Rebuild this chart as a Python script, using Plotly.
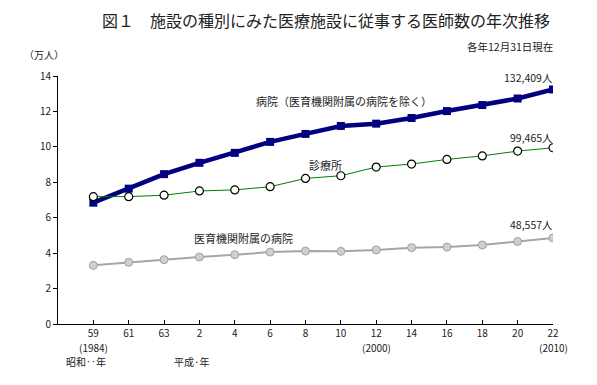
import plotly.graph_objects as go

years = ["59", "61", "63", "2", "4", "6", "8", "10", "12", "14", "16", "18", "20", "22"]
western = ["(1984)", "", "", "", "", "", "", "", "(2000)", "", "", "", "", "(2010)"]
hospital = [6.85, 7.64, 8.46, 9.10, 9.66, 10.28, 10.73, 11.18, 11.31, 11.63, 12.02, 12.36, 12.73, 13.24]
clinic = [7.19, 7.19, 7.27, 7.51, 7.57, 7.75, 8.22, 8.37, 8.86, 9.03, 9.29, 9.49, 9.76, 9.95]
univ = [3.31, 3.48, 3.63, 3.78, 3.91, 4.06, 4.12, 4.10, 4.18, 4.31, 4.34, 4.46, 4.66, 4.86]
yticks = [0, 2, 4, 6, 8, 10, 12, 14]

xs = list(range(len(years)))
FONT = "Noto Sans CJK JP"

fig = go.Figure()
fig.add_trace(go.Scatter(
    x=xs, y=univ, mode="lines+markers",
    line=dict(color="#A6A6A6", width=2),
    marker=dict(symbol="circle", size=8, color="#CFCFCF", line=dict(color="#A0A0A0", width=1)),
    hoverinfo="skip"))
fig.add_trace(go.Scatter(
    x=xs, y=hospital, mode="lines+markers",
    line=dict(color="#000080", width=4.5),
    marker=dict(symbol="square", size=8, color="#000080"),
    hoverinfo="skip"))
fig.add_trace(go.Scatter(
    x=xs, y=clinic, mode="lines+markers",
    line=dict(color="#008000", width=1),
    marker=dict(symbol="circle", size=8, color="white", line=dict(color="black", width=1.2)),
    hoverinfo="skip"))

ann = []
def txt(x, y, t, size=10.5, xanchor="center", xref="paper"):
    ann.append(dict(x=x, y=y, xref=xref, yref="paper", text=t, showarrow=False,
                    xanchor=xanchor, yanchor="middle", borderpad=0,
                    font=dict(family=FONT, size=size, color="#222")))

W, H = 597, 385
def px(xp):  # pixel to paper x
    return (xp - 58) / (553.5 - 58)
def py(yp):
    return (324 - yp) / (324 - 76)

txt(px(326), py(20), "図１　施設の種別にみた医療施設に従事する医師数の年次推移", size=16)
txt(px(44), py(55), "（万人）", size=10)
txt(px(555), py(46), "各年12月31日現在", size=10.5, xanchor="right")
txt(px(344), py(101), "病院（医育機関附属の病院を除く）", size=11)
txt(px(326), py(165), "診療所", size=11)
txt(px(244), py(238), "医育機関附属の病院", size=11)
txt(px(555), py(77), "132,409人", size=10.5, xanchor="right")
txt(px(555), py(137), "99,465人", size=10.5, xanchor="right")
txt(px(555), py(224), "48,557人", size=10.5, xanchor="right")
txt(px(86), py(361.5), "昭和‥年", size=10)
txt(px(192), py(361.5), "平成·年", size=10)
for xi, w in zip(xs, western):
    if w:
        txt(xi, py(347.5), w, size=10, xref="x")

fig.update_layout(
    width=W, height=H,
    margin=dict(l=58, r=W - 553.5, t=76, b=H - 324),
    paper_bgcolor="white", plot_bgcolor="white",
    showlegend=False,
    annotations=ann,
    font=dict(family=FONT, size=10, color="#222"),
)
fig.update_xaxes(
    range=[-1, 13], tickmode="array", tickvals=xs, ticktext=years,
    ticks="inside", ticklen=4, tickcolor="black",
    showline=True, linecolor="black", linewidth=1,
    showgrid=False, zeroline=False, automargin=False,
    tickfont=dict(family=FONT, size=10, color="#222"),
)
fig.update_yaxes(
    range=[0, 14], tickmode="array", tickvals=yticks,
    ticks="outside", ticklen=4, tickcolor="black",
    showline=True, linecolor="black", linewidth=1,
    showgrid=False, zeroline=False, automargin=False,
    tickfont=dict(family=FONT, size=10, color="#222"),
)

fig.write_html("out.html", config={"displayModeBar": False},
               post_script="document.body.style.margin='0';document.body.style.overflow='hidden';")
